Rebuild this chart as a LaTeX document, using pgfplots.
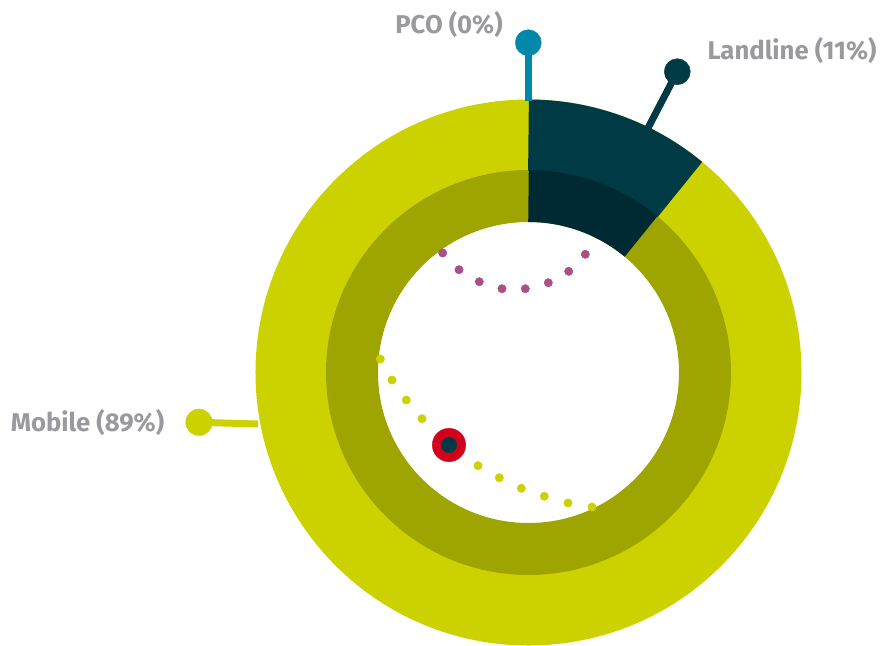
\documentclass[border=0pt]{standalone}
\usepackage{pgfplots}
\pgfplotsset{compat=1.18}
\usepackage{fontspec}
\setmainfont{Fira Sans}
\definecolor{limeout}{HTML}{CCD200}
\definecolor{olivemid}{HTML}{9EA400}
\definecolor{tealout}{HTML}{003A44}
\definecolor{tealin}{HTML}{002A33}
\definecolor{pcoblue}{HTML}{0088AA}
\definecolor{dotpurple}{HTML}{AA4F88}
\definecolor{markred}{HTML}{D0021B}
\definecolor{markdark}{HTML}{003A44}
\definecolor{labelgray}{HTML}{9A9A9E}
% shares in percent
\def\shareMobile{89}
\def\shareLandline{11}
\def\sharePCO{0}
\begin{document}
\begin{tikzpicture}
\clip (0,0) rectangle (882bp,646bp);
\useasboundingbox (0,0) rectangle (882bp,646bp);
\begin{axis}[x=1bp, y=1bp, xmin=0, xmax=882, ymin=0, ymax=646,
  y dir=reverse, hide axis, clip=false, anchor=south west, at={(0,0)}]
\pgfmathsetmacro{\landEnd}{90-3.6*\shareLandline}
% outer ring (Mobile)
\draw[line width=71bp, limeout] (axis cs:528.5,372.5) circle[radius=237.5bp];
% middle ring
\draw[line width=52bp, olivemid] (axis cs:528.5,372.5) circle[radius=176.5bp];
% Landline wedge
\draw[line width=71bp, tealout] (axis cs:528.5,372.5) ++(90:237.5bp) arc[start angle=90, end angle=\landEnd, radius=237.5bp];
\draw[line width=52bp, tealin] (axis cs:528.5,372.5) ++(90:176.5bp) arc[start angle=90, end angle=\landEnd, radius=176.5bp];
% leader lines
\addplot[pcoblue, line width=7bp] coordinates {(528.3,101) (528.3,42.7)};
\addplot[pcoblue, only marks, mark=*, mark size=13bp] coordinates {(528.3,42.7)};
\addplot[tealout, line width=7bp] coordinates {(648,128) (677.3,71.7)};
\addplot[tealout, only marks, mark=*, mark size=13bp] coordinates {(677.3,71.7)};
\addplot[limeout, line width=7bp] coordinates {(258,424) (199,422.3)};
\addplot[limeout, only marks, mark=*, mark size=13.3bp] coordinates {(199,422.3)};
% dotted arcs
\addplot[dotpurple, only marks, mark=*, mark size=4.2bp] coordinates {
(442.7,253) (459,269.7) (479.3,281.7) (502,288.7) (525.3,288.7) (548.3,282.7) (568.7,271.3) (585.3,254.3)};
\addplot[limeout, only marks, mark=*, mark size=4.2bp] coordinates {
(380.3,359) (392,380) (406.3,400) (422,418.7) (478,465.7) (499.3,477.7) (521.3,488.3) (544.3,496.3) (568,503) (592,507)};
\addplot[markred, only marks, mark=*, mark size=16.7bp] coordinates {(449,445)};
\addplot[markdark, only marks, mark=*, mark size=7.7bp] coordinates {(449,445)};
% labels
\node[text=labelgray, font=\fontsize{25.8}{28}\selectfont\bfseries] at (axis cs:449,24) {PCO (0\%)};
\node[text=labelgray, font=\fontsize{25.8}{28}\selectfont\bfseries] at (axis cs:792,50) {Landline (11\%)};
\node[text=labelgray, font=\fontsize{25.8}{28}\selectfont\bfseries] at (axis cs:87.5,422) {Mobile (89\%)};
\end{axis}
\end{tikzpicture}
\end{document}
